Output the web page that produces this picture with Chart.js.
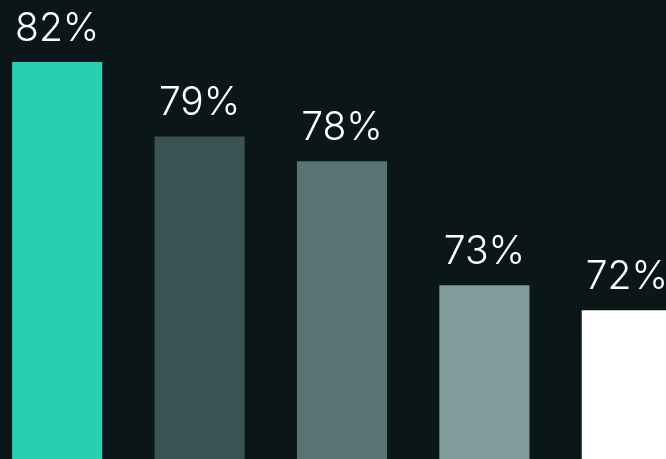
<!DOCTYPE html>
<html>
<head>
<meta charset="utf-8">
<script src="https://cdn.jsdelivr.net/npm/chart.js@4/dist/chart.umd.min.js"></script>
<style>
  html, body { margin: 0; padding: 0; background: #0b1618; overflow: hidden; }
  #wrap { position: absolute; left: -14px; top: 0; width: 712px; height: 459px; }
</style>
</head>
<body>
<div id="wrap"><canvas id="chart"></canvas></div>
<script>
const categories = ['A', 'B', 'C', 'D', 'E'];
const values = [82, 79, 78, 73, 72];
const barColors = ['#26d0b0', '#3a5352', '#587372', '#809b9a', '#ffffff'];

// draws the % above each bar
const topLabels = {
  id: 'topLabels',
  afterDatasetsDraw(chart) {
    const ctx = chart.ctx;
    const meta = chart.getDatasetMeta(0);
    ctx.save();
    ctx.fillStyle = '#ffffff';
    ctx.font = '300 39px Inter';
    ctx.textAlign = 'center';
    ctx.textBaseline = 'alphabetic';
    meta.data.forEach((bar, i) => {
      ctx.fillText(values[i] + '%', bar.x, bar.y - 21);
    });
    ctx.restore();
  }
};

new Chart(document.getElementById('chart'), {
  type: 'bar',
  data: {
    labels: categories,
    datasets: [{
      data: values,
      backgroundColor: barColors,
      borderWidth: 0,
      categoryPercentage: 1,
      barPercentage: 0.633
    }]
  },
  options: {
    responsive: true,
    maintainAspectRatio: false,
    animation: false,
    layout: { padding: 0 },
    plugins: { legend: { display: false }, tooltip: { enabled: false } },
    scales: {
      x: { display: false },
      y: { display: false, min: 66, max: 84.5 }
    }
  },
  plugins: [topLabels]
});
</script>
</body>
</html>
